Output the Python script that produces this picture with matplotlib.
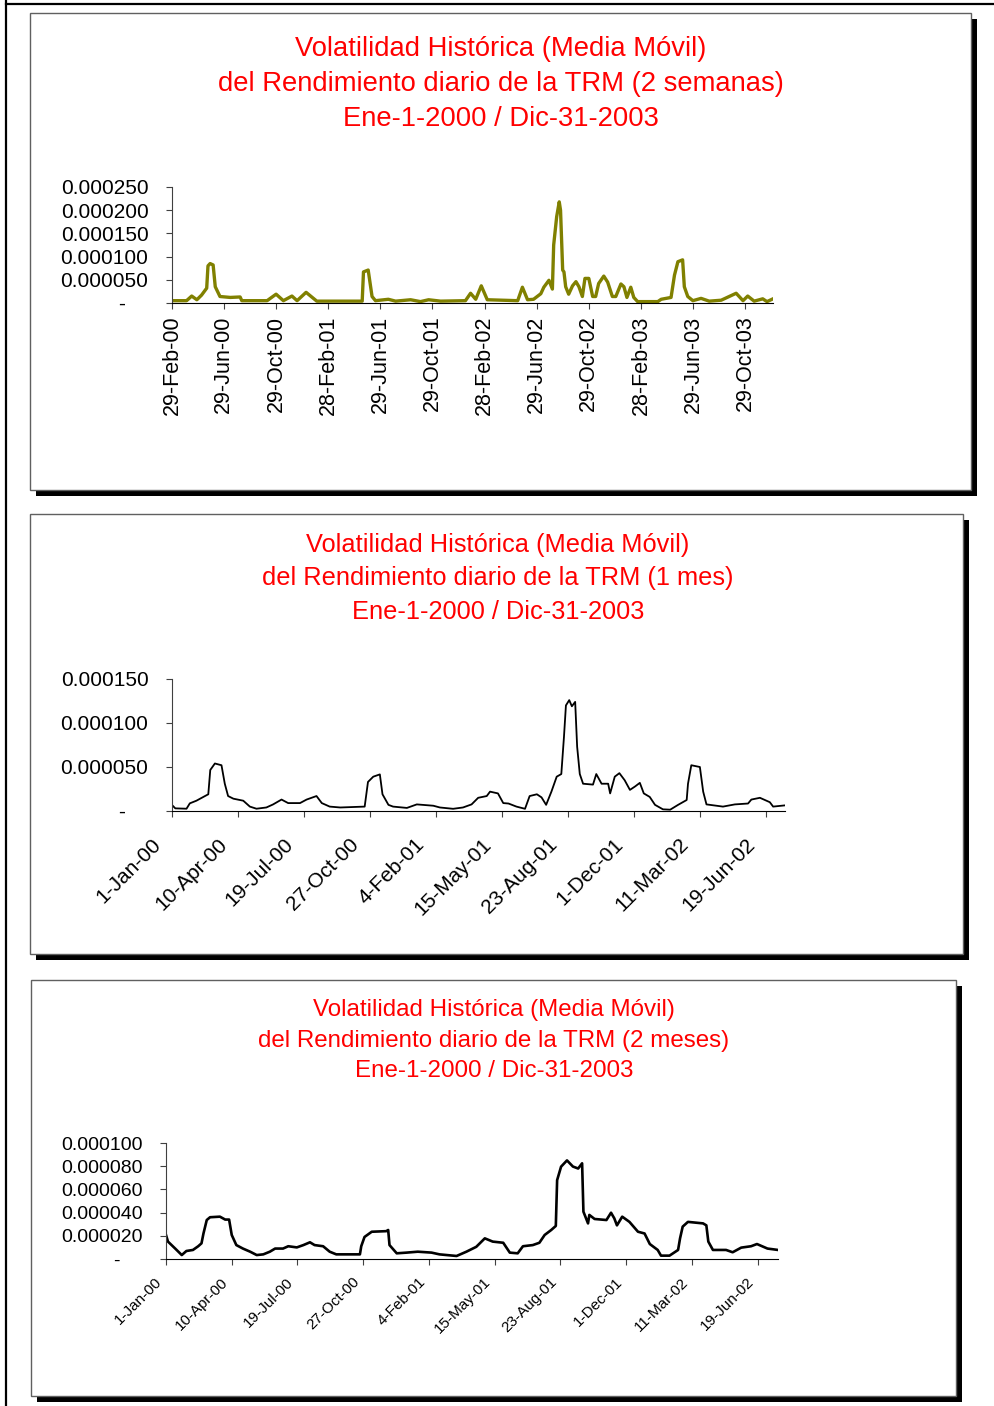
import numpy as np
import pandas as pd
import matplotlib
matplotlib.use('Agg')
import matplotlib.pyplot as plt
from matplotlib.patches import Rectangle
from matplotlib.transforms import ScaledTranslation

plt.rcParams['font.family'] = ['Liberation Sans', 'DejaVu Sans']

# --- 2 semanas: dias desde 29-Feb-00 y volatilidad
d2s = [0, 34, 46, 58, 69, 81, 84, 89, 96, 101, 112, 136, 159, 163, 222, 243, 260,
       280, 292, 313, 338, 444, 447, 458, 467, 475, 505, 522, 557, 580, 599, 627,
       685, 697, 709, 722, 736, 807, 818, 830, 844, 861, 868, 880, 888, 891, 898,
       904, 907, 912, 915, 919, 926, 935, 943, 950, 958, 964, 973, 982, 989, 996,
       1008, 1017, 1028, 1036, 1048, 1055, 1062, 1071, 1078, 1087, 1134, 1142,
       1165, 1173, 1181, 1192, 1196, 1204, 1216, 1235, 1254, 1282, 1317, 1333,
       1344, 1359, 1379, 1389, 1403]
v2s = [5, 5, 15, 7, 17, 32, 80, 85, 82, 35, 14, 12, 13, 5, 5, 19, 5,
       15, 5, 23, 4, 4, 67, 71, 14, 5, 8, 4, 7, 3, 7, 4,
       5, 21, 8, 37, 7, 5, 34, 7, 8, 20, 34, 49, 30, 125, 186,
       218, 200, 71, 67, 35, 19, 37, 46, 35, 14, 53, 53, 14, 14, 42,
       58, 45, 14, 14, 41, 35, 12, 34, 12, 3, 3, 8,
       12, 60, 89, 93, 35, 14, 5, 10, 4, 6, 21, 5,
       15, 4, 9, 3, 9]

# --- 1 mes: dias desde 1-Jan-00
d1m = [0, 5, 22, 27, 37, 50, 55, 58, 65, 75, 80, 85, 93, 108, 118, 128, 143,
       153, 166, 176, 194, 204, 219, 227, 239, 255, 292, 297, 305, 315, 319,
       328, 335, 356, 371, 396, 406, 426, 441, 454, 464, 477, 482, 494, 502,
       510, 522, 535, 542, 553, 560, 567, 575, 583, 590, 594, 597, 602, 606,
       611, 614, 618, 623, 638, 643, 651, 661, 664, 671, 678, 686, 694, 702,
       709, 715, 724, 732, 744, 755, 767, 780, 782, 787, 800, 805, 810, 835,
       853, 873, 878, 891, 906, 911, 929]
v1m = [6.8, 3, 2.6, 8.7, 11.7, 17, 19, 46.6, 54, 52, 31, 17, 14, 11.7, 5, 2.6, 4,
       7.4, 13, 9, 9, 13, 17, 9, 5, 4, 5, 33, 39, 41.6, 19,
       7, 5, 3.5, 7.5, 6, 4, 2.5, 4, 7.5, 15, 17, 22, 20, 9,
       8.5, 5, 2.5, 17, 19, 15.5, 7, 22, 39, 42, 84, 120, 126, 119,
       124, 73, 42, 31, 30, 42, 31, 31, 20, 39, 43, 35, 24, 28,
       32, 20, 16, 7, 1.9, 1.5, 7, 12.5, 31, 52, 50, 22, 7.5, 5,
       7.5, 8.5, 13, 15, 10, 5, 6.4]

# --- 2 meses: dias desde 1-Jan-00
d2m = [0, 3, 14, 24, 31, 41, 49, 54, 57, 62, 67, 82, 90, 96, 100, 107, 117,
       128, 138, 148, 158, 166, 178, 186, 199, 209, 219, 226, 239, 249, 259,
       295, 297, 302, 313, 335, 338, 340, 351, 366, 383, 404, 416, 442, 457,
       472, 485, 497, 513, 523, 535, 543, 558, 568, 576, 586, 593, 595, 601,
       610, 619, 627, 633, 635, 642, 644, 652, 670, 677, 682, 686, 694, 705,
       718, 728, 736, 748, 753, 766, 779, 782, 786, 794, 817, 822, 825, 832,
       852, 862, 875, 890, 899, 915, 931]
v2m = [20.7, 15, 9, 3.4, 6.9, 7.8, 11, 13.5, 22, 33.6, 36, 36.5, 34, 34, 20.7, 12, 9,
       6.3, 3.4, 4, 6.3, 9, 9, 11, 10, 12, 14.4, 12, 11, 6.3, 4,
       4, 11, 19, 23.5, 24, 25, 12, 4.9, 5.5, 6.3, 5.5, 4, 2.6, 6.3,
       10.5, 17.8, 15, 14, 5.5, 4.9, 11, 12, 14, 20.7, 25, 28.5, 68, 79.6,
       85, 79.7, 78, 82.5, 40.8, 30.7, 38, 34.5, 33.6, 39.9, 35, 29, 36.5, 32,
       23.5, 22, 12.9, 7.8, 2.9, 2.9, 7.8, 17.8, 27.9, 32, 30.7, 29, 15, 7.8,
       7.8, 5.8, 9.8, 11, 12.9, 9, 7.8]

ticks_2s = ['29-Feb-00', '29-Jun-00', '29-Oct-00', '28-Feb-01', '29-Jun-01',
            '29-Oct-01', '28-Feb-02', '29-Jun-02', '29-Oct-02', '28-Feb-03',
            '29-Jun-03', '29-Oct-03']
ticks_m = ['1-Jan-00', '10-Apr-00', '19-Jul-00', '27-Oct-00', '4-Feb-01',
           '15-May-01', '23-Aug-01', '1-Dec-01', '11-Mar-02', '19-Jun-02']

titulos = [
    'Volatilidad Histórica (Media Móvil)\ndel Rendimiento diario de la TRM (2 semanas)\nEne-1-2000 / Dic-31-2003',
    'Volatilidad Histórica (Media Móvil)\ndel Rendimiento diario de la TRM (1 mes)\nEne-1-2000 / Dic-31-2003',
    'Volatilidad Histórica (Media Móvil)\ndel Rendimiento diario de la TRM (2 meses)\nEne-1-2000 / Dic-31-2003',
]

W, H = 995, 1406
fig = plt.figure(figsize=(W / 100, H / 100), dpi=100)

def caja(l, t, r, b):
    return [l / W, 1 - b / H, (r - l) / W, (b - t) / H]

# fondo: marcos de los graficos
bg = fig.add_axes([0, 0, 1, 1])
bg.set_xlim(0, W)
bg.set_ylim(H, 0)
bg.axis('off')
bg.plot([6, 6], [0, H], color='black', lw=1.6)
bg.plot([6, W], [3.5, 3.5], color='black', lw=1.6)

marcos = [(30, 13, 971, 490), (30, 514, 963, 954), (31, 980, 956, 1396)]
for l, t, r, b in marcos:
    bg.add_patch(Rectangle((l + 6, t + 6), r - l, b - t, facecolor='black', edgecolor='none'))
    bg.add_patch(Rectangle((l, t), r - l, b - t, facecolor='white', edgecolor='#606060', lw=1.0))

# titulos
bg.text(501, 84, titulos[0], color='red', fontsize=19.7, ha='center', va='center', linespacing=1.46)
bg.text(498, 578.5, titulos[1], color='red', fontsize=18.3, ha='center', va='center', linespacing=1.5)
bg.text(494, 1040.5, titulos[2], color='red', fontsize=17.4, ha='center', va='center', linespacing=1.5)

def fechas(base, dias):
    return pd.Timestamp(base) + pd.to_timedelta(dias, unit='D')

def estilo(ax, yticks, ylabels, fs):
    ax.spines['top'].set_visible(False)
    ax.spines['right'].set_visible(False)
    ax.spines['left'].set_color('#404040')
    ax.spines['bottom'].set_color('black')
    ax.set_yticks(yticks)
    ax.set_yticklabels(ylabels)
    ax.tick_params(axis='y', direction='out', length=4, width=0.8, pad=13, labelsize=fs,
                   colors='#404040', labelcolor='black')
    ax.tick_params(axis='x', direction='out', length=4, width=0.8, colors='#404040', labelcolor='black')
    ax.set_facecolor('none')

def etiquetas_45(ax, labels, fs, dx, pad):
    ax.set_xticklabels(labels, rotation=45, ha='right', va='center',
                       rotation_mode='anchor', fontsize=fs)
    ax.tick_params(axis='x', pad=pad)
    off = ScaledTranslation(dx / 100, 0, fig.dpi_scale_trans)
    for lab in ax.get_xticklabels():
        lab.set_transform(lab.get_transform() + off)

# 2 semanas
x1 = fechas('2000-02-29', d2s)
ax1 = fig.add_axes(caja(172, 187, 773, 303))
ax1.plot(x1, np.array(v2s) * 1e-6, color='#808000', lw=2.4)
ax1.set_xlim(x1[0], x1[-1])
ax1.set_ylim(0, 0.00025)
estilo(ax1, [0, 0.00005, 0.0001, 0.00015, 0.0002, 0.00025],
       ['-    ', '0.000050', '0.000100', '0.000150', '0.000200', '0.000250'], 15)
ax1.set_xticks(pd.to_datetime(ticks_2s, format='%d-%b-%y'))
ax1.set_xticklabels(ticks_2s, rotation=90, fontsize=15.5)
ax1.tick_params(axis='x', pad=5)

# 1 mes
x2 = fechas('2000-01-01', d1m)
ax2 = fig.add_axes(caja(172, 679, 785, 811))
ax2.plot(x2, np.array(v1m) * 1e-6, color='black', lw=1.3)
ax2.set_xlim(x2[0], x2[-1])
ax2.set_ylim(0, 0.00015)
estilo(ax2, [0, 0.00005, 0.0001, 0.00015],
       ['-    ', '0.000050', '0.000100', '0.000150'], 15)
ax2.set_xticks(pd.to_datetime(ticks_m, format='%d-%b-%y'))
etiquetas_45(ax2, ticks_m, 15, -14, 18)

# 2 meses
x3 = fechas('2000-01-01', d2m)
ax3 = fig.add_axes(caja(166, 1143, 778, 1259))
ax3.plot(x3, np.array(v2m) * 1e-6, color='black', lw=1.9)
ax3.set_xlim(x3[0], x3[-1])
ax3.set_ylim(0, 0.0001)
estilo(ax3, [0, 0.00002, 0.00004, 0.00006, 0.00008, 0.0001],
       ['-    ', '0.000020', '0.000040', '0.000060', '0.000080', '0.000100'], 14)
ax3.set_xticks(pd.to_datetime(ticks_m, format='%d-%b-%y'))
etiquetas_45(ax3, ticks_m, 11, -6, 11)

fig.savefig('out.png', dpi=100)
